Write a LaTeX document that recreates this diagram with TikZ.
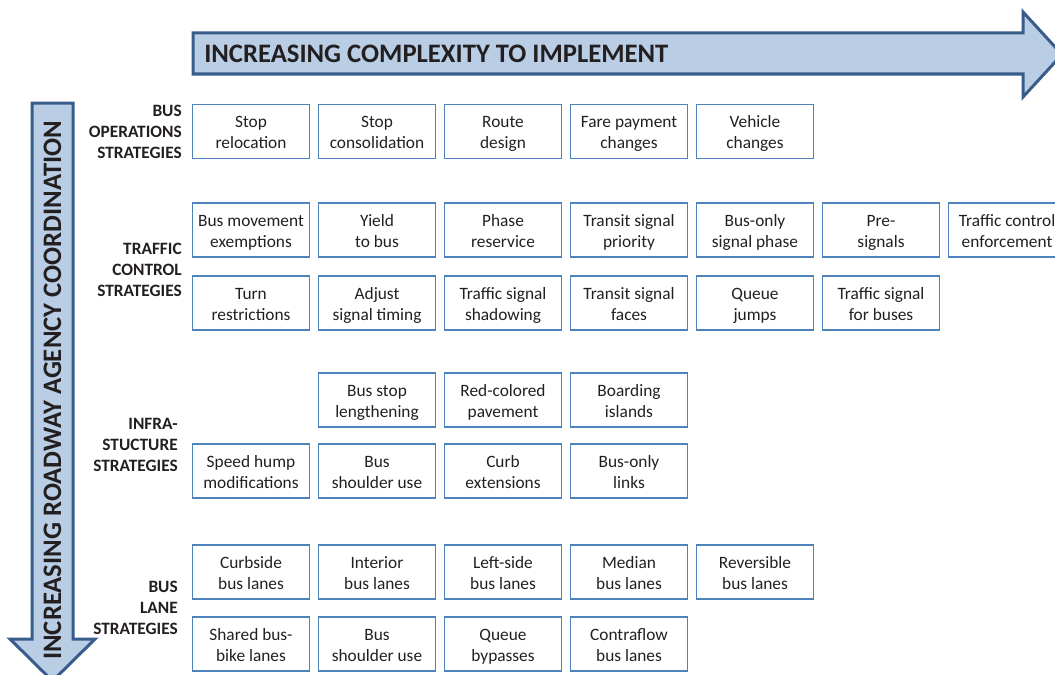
\documentclass[tikz,border=0pt]{standalone}
\usepackage{fontspec}
\setmainfont{Carlito}
\usetikzlibrary{positioning}

\definecolor{boxblue}{HTML}{4F81BD}
\definecolor{arrowfill}{HTML}{B9CDE5}
\definecolor{arrowline}{HTML}{385D8A}
\definecolor{textgray}{HTML}{231F20}

% two struted lines, so every box centres its text alike
\newcommand{\boxstrut}{\rule[-2.8pt]{0pt}{15.7pt}}
\newcommand{\twolines}[2]{\boxstrut #1\\\boxstrut #2}

\begin{document}
\begin{tikzpicture}[x=0.75pt,y=-0.75pt,
        every node/.style = {text=textgray,font=\fontsize{13}{15.75}\selectfont},
        strat/.style = {draw=boxblue,line width=0.8pt,minimum width=87.75pt,minimum height=40.5pt,
                        align=center,inner sep=1pt,outer sep=0pt},
        grouplabel/.style = {font=\bfseries\fontsize{13}{15.75}\selectfont,align=right,anchor=east,inner sep=0pt},
        bigarrow/.style = {fill=arrowfill,draw=arrowline,line width=2.25pt,line join=miter},
        arrowtext/.style = {font=\bfseries\fontsize{20}{24}\selectfont,inner sep=0pt},
        node distance = 6.75pt,
        ]
        \useasboundingbox (0,0) rectangle (1055,674);
        \clip (0,0) rectangle (1055,674);

        % the two big arrows
        \draw[bigarrow] (193,33) -- (1023,33) -- (1023,12) -- (1062,54.5) -- (1023,97)
            -- (1023,74) -- (193,74) -- cycle;
        \draw[bigarrow] (32,103) -- (73,103) -- (73,639) -- (95,639) -- (52.5,681)
            -- (10,639) -- (32,639) -- cycle;
        \node[arrowtext,anchor=west] (complexity) at (204,54) {INCREASING COMPLEXITY TO IMPLEMENT};
        \node[arrowtext,anchor=west,rotate=90] (coordination) at (52.5,660) {INCREASING ROADWAY AGENCY COORDINATION};

        % group labels
        \node[grouplabel] (lbl-ops) at (182,132) {BUS\\OPERATIONS\\STRATEGIES};
        \node[grouplabel] (lbl-traffic) at (182,270) {TRAFFIC\\CONTROL\\STRATEGIES};
        \node[grouplabel] (lbl-infra) at (178,445) {INFRA-\\STUCTURE\\STRATEGIES};
        \node[grouplabel] (lbl-lane) at (178,608) {BUS\\LANE\\STRATEGIES};

        % bus operations
        \node[strat] (ops-1) at (251,131.5) {\twolines{Stop}{relocation}};
        \node[strat] (ops-2) [right = of ops-1] {\twolines{Stop}{consolidation}};
        \node[strat] (ops-3) [right = of ops-2] {\twolines{Route}{design}};
        \node[strat] (ops-4) [right = of ops-3] {\twolines{Fare payment}{changes}};
        \node[strat] (ops-5) [right = of ops-4] {\twolines{Vehicle}{changes}};

        % traffic control
        \node[strat] (tc-11) at (251,230) {\twolines{Bus movement}{exemptions}};
        \node[strat] (tc-12) [right = of tc-11] {\twolines{Yield}{to bus}};
        \node[strat] (tc-13) [right = of tc-12] {\twolines{Phase}{reservice}};
        \node[strat] (tc-14) [right = of tc-13] {\twolines{Transit signal}{priority}};
        \node[strat] (tc-15) [right = of tc-14] {\twolines{Bus-only}{signal phase}};
        \node[strat] (tc-16) [right = of tc-15] {\twolines{Pre-}{signals}};
        \node[strat] (tc-17) [right = of tc-16] {\twolines{Traffic control}{enforcement}};
        \node[strat] (tc-21) at (251,303) {\twolines{Turn}{restrictions}};
        \node[strat] (tc-22) [right = of tc-21] {\twolines{Adjust}{signal timing}};
        \node[strat] (tc-23) [right = of tc-22] {\twolines{Traffic signal}{shadowing}};
        \node[strat] (tc-24) [right = of tc-23] {\twolines{Transit signal}{faces}};
        \node[strat] (tc-25) [right = of tc-24] {\twolines{Queue}{jumps}};
        \node[strat] (tc-26) [right = of tc-25] {\twolines{Traffic signal}{for buses}};

        % infrastructure
        \node[strat] (inf-12) at (377,400) {\twolines{Bus stop}{lengthening}};
        \node[strat] (inf-13) [right = of inf-12] {\twolines{Red-colored}{pavement}};
        \node[strat] (inf-14) [right = of inf-13] {\twolines{Boarding}{islands}};
        \node[strat] (inf-21) at (251,471) {\twolines{Speed hump}{modifications}};
        \node[strat] (inf-22) [right = of inf-21] {\twolines{Bus}{shoulder use}};
        \node[strat] (inf-23) [right = of inf-22] {\twolines{Curb}{extensions}};
        \node[strat] (inf-24) [right = of inf-23] {\twolines{Bus-only}{links}};

        % bus lanes
        \node[strat] (lane-11) at (251,572) {\twolines{Curbside}{bus lanes}};
        \node[strat] (lane-12) [right = of lane-11] {\twolines{Interior}{bus lanes}};
        \node[strat] (lane-13) [right = of lane-12] {\twolines{Left-side}{bus lanes}};
        \node[strat] (lane-14) [right = of lane-13] {\twolines{Median}{bus lanes}};
        \node[strat] (lane-15) [right = of lane-14] {\twolines{Reversible}{bus lanes}};
        \node[strat] (lane-21) at (251,644) {\twolines{Shared bus-}{bike lanes}};
        \node[strat] (lane-22) [right = of lane-21] {\twolines{Bus}{shoulder use}};
        \node[strat] (lane-23) [right = of lane-22] {\twolines{Queue}{bypasses}};
        \node[strat] (lane-24) [right = of lane-23] {\twolines{Contraflow}{bus lanes}};
    \end{tikzpicture}
\end{document}
